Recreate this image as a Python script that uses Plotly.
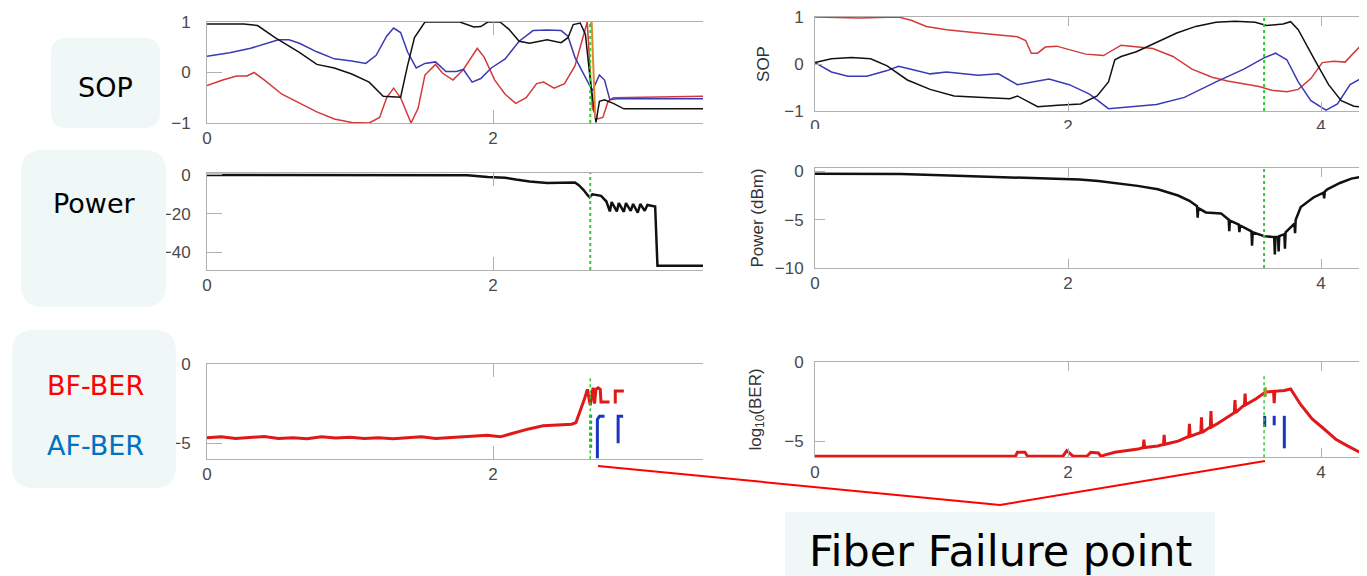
import plotly.graph_objects as go

W, H = 1367, 576
OFF = 8  # page body margin of the browser

# ---------------- data ----------------
fail_left = 2.68
fail_right = 3.55

# Left SOP
lsop_black_x = [0, 0.256, 0.354, 0.476, 0.646, 0.768, 0.89, 1.012, 1.134, 1.232, 1.354, 1.402, 1.451, 1.524, 1.768, 1.866, 1.915, 1.963, 2.049, 2.11, 2.183, 2.256, 2.378, 2.476, 2.524, 2.561, 2.61, 2.646, 2.683, 2.72, 2.744, 2.78, 2.841, 2.915, 3.5]
lsop_black_y = [0.96, 0.96, 0.93, 0.69, 0.40, 0.16, 0.09, -0.03, -0.19, -0.47, -0.49, 0.13, 0.69, 1.0, 1.0, 0.9, 0.91, 1.0, 1.0, 0.86, 0.62, 0.58, 0.65, 0.59, 0.69, 0.95, 0.98, 0.76, -0.22, -0.99, -0.57, -0.54, -0.61, -0.72, -0.72]
lsop_blue_x = [0, 0.159, 0.305, 0.402, 0.5, 0.573, 0.646, 0.768, 0.89, 1.012, 1.11, 1.183, 1.256, 1.305, 1.354, 1.402, 1.463, 1.524, 1.598, 1.671, 1.744, 1.793, 1.854, 1.915, 1.988, 2.085, 2.183, 2.28, 2.378, 2.476, 2.524, 2.573, 2.646, 2.695, 2.744, 2.78, 2.817, 2.866, 3.5]
lsop_blue_y = [0.32, 0.39, 0.48, 0.56, 0.65, 0.65, 0.58, 0.41, 0.27, 0.23, 0.18, 0.34, 0.72, 0.88, 0.79, 0.41, 0.09, 0.18, 0.21, 0.02, 0.02, 0.06, -0.19, -0.12, 0.09, 0.27, 0.62, 0.83, 0.84, 0.83, 0.72, 0.30, -0.08, -0.36, -0.05, -0.15, -0.54, -0.52, -0.52]
lsop_red_x = [0, 0.110, 0.207, 0.280, 0.329, 0.402, 0.524, 0.646, 0.768, 0.89, 1.012, 1.134, 1.207, 1.256, 1.305, 1.354, 1.427, 1.476, 1.524, 1.598, 1.646, 1.720, 1.793, 1.890, 1.939, 2.012, 2.085, 2.159, 2.232, 2.305, 2.354, 2.427, 2.500, 2.573, 2.622, 2.659, 2.695, 2.732, 2.768, 2.805, 2.841, 3.5]
lsop_red_y = [-0.26, -0.15, -0.07, -0.07, 0.0, -0.15, -0.43, -0.61, -0.78, -0.92, -0.99, -1.0, -0.89, -0.50, -0.31, -0.50, -1.0, -0.71, -0.05, 0.16, -0.01, -0.15, 0.06, 0.48, 0.30, -0.15, -0.43, -0.61, -0.50, -0.22, -0.19, -0.31, -0.22, 0.13, 0.62, 1.0, -0.71, -0.92, -0.89, -0.57, -0.50, -0.47]
lsop_orange_x = [2.675, 2.69, 2.715]
lsop_orange_y = [0.9, 1.0, -0.9]

# Left power (dBm)
lpow_x = [0, 1.82, 1.963, 2.085, 2.16, 2.256, 2.378, 2.573, 2.60, 2.634, 2.66, 2.676, 2.695, 2.756, 2.793,
          2.817, 2.83, 2.866, 2.88, 2.915, 2.93, 2.963, 2.98, 3.012, 3.03, 3.061, 3.08, 3.134, 3.15, 3.5]
lpow_y = [0, -0.2, -1.0, -1.4, -2.4, -3.4, -4.1, -3.9, -5.3, -7.8, -10.3, -11.5, -10.0, -10.8, -13.7,
          -18.8, -14.0, -18.8, -14.5, -19.0, -14.5, -18.5, -15.0, -19.5, -15.0, -18.5, -15.5, -16.3, -46.8, -46.8]

# Left BER (log10)
lbf_x = [0, 0.1, 0.2, 0.3, 0.4, 0.5, 0.6, 0.7, 0.8, 0.9, 1.0, 1.1, 1.2, 1.3, 1.4, 1.5, 1.6, 1.7, 1.8, 1.9, 1.96,
         2.05, 2.15, 2.25, 2.35, 2.45, 2.55, 2.58, 2.61, 2.64, 2.66, 2.68, 2.70, 2.71, 2.72, 2.735, 2.75, 2.755, 2.815,
         None, 2.855, 2.855, 2.915]
lbf_y = [-4.65, -4.6, -4.7, -4.62, -4.58, -4.7, -4.65, -4.72, -4.6, -4.68, -4.62, -4.7, -4.65, -4.72, -4.68, -4.6,
         -4.7, -4.65, -4.6, -4.55, -4.5, -4.6, -4.35, -4.1, -3.9, -3.85, -3.8, -3.7, -3.0, -2.2, -1.6, -2.6, -1.5,
         -2.5, -1.6, -1.5, -1.6, -2.4, -2.4, None, -2.5, -1.7, -1.7]
laf_dot_x = [2.683, 2.683]
laf_dot_y = [-3.2, -5.4]
laf_x = [2.73, 2.73, 2.745, 2.78, None, 2.875, 2.875, 2.91]
laf_y = [-5.95, -3.5, -3.3, -3.3, None, -5.0, -3.3, -3.3]

# Right SOP
rsop_red_x = [0, 0.35, 0.66, 0.76, 0.88, 1.04, 1.29, 1.45, 1.60, 1.665, 1.71, 1.76, 1.82, 1.91, 2.01, 2.14, 2.23, 2.28, 2.42, 2.58, 2.67, 2.83, 2.98, 3.14, 3.26, 3.51, 3.61, 3.73, 3.82, 3.92, 4.01, 4.10, 4.19, 4.33, 4.45]
rsop_red_y = [1.0, 0.98, 1.0, 0.93, 0.80, 0.73, 0.66, 0.62, 0.58, 0.50, 0.23, 0.23, 0.36, 0.38, 0.30, 0.21, 0.19, 0.18, 0.40, 0.36, 0.33, 0.16, -0.11, -0.28, -0.36, -0.48, -0.56, -0.59, -0.54, -0.31, 0.03, 0.06, 0.04, 0.44, 0.6]
rsop_black_x = [0, 0.13, 0.29, 0.44, 0.57, 0.73, 0.91, 1.10, 1.29, 1.54, 1.60, 1.665, 1.76, 1.92, 2.10, 2.23, 2.32, 2.37, 2.42, 2.54, 2.70, 2.86, 3.01, 3.17, 3.32, 3.48, 3.57, 3.70, 3.76, 3.82, 3.95, 4.06, 4.16, 4.26, 4.45]
rsop_black_y = [0.03, 0.11, 0.14, 0.11, -0.04, -0.34, -0.54, -0.68, -0.71, -0.74, -0.68, -0.78, -0.91, -0.88, -0.85, -0.68, -0.38, 0.09, 0.16, 0.26, 0.46, 0.66, 0.80, 0.89, 0.91, 0.89, 0.82, 0.85, 0.90, 0.73, 0.09, -0.44, -0.78, -0.90, -0.95]
rsop_blue_x = [0, 0.13, 0.26, 0.41, 0.57, 0.66, 0.76, 0.91, 1.04, 1.16, 1.29, 1.45, 1.60, 1.73, 1.85, 2.01, 2.17, 2.32, 2.48, 2.70, 2.92, 3.17, 3.39, 3.55, 3.64, 3.73, 3.82, 3.92, 4.04, 4.13, 4.23, 4.33, 4.45]
rsop_blue_y = [0.03, -0.17, -0.26, -0.26, -0.14, -0.05, -0.11, -0.21, -0.17, -0.21, -0.24, -0.21, -0.44, -0.38, -0.32, -0.44, -0.64, -0.95, -0.91, -0.86, -0.71, -0.38, -0.11, 0.13, 0.23, 0.09, -0.38, -0.78, -0.98, -0.85, -0.44, -0.28, -0.1]

# Right power (dBm)
rpow_x = [0, 0.68, 1.0, 1.46, 1.93, 2.09, 2.24, 2.40, 2.55, 2.71, 2.87, 2.96, 3.02, 3.025, 3.03, 3.09, 3.21,
          3.27, 3.275, 3.28, 3.35, 3.355, 3.36, 3.45, 3.455, 3.46, 3.55, 3.63, 3.635, 3.64, 3.66, 3.665, 3.67,
          3.71, 3.715, 3.72, 3.79, 3.795, 3.80, 3.84, 3.94, 4.02, 4.025, 4.03, 4.05, 4.15, 4.24, 4.33, 4.45]
rpow_y = [-0.25, -0.28, -0.4, -0.6, -0.75, -0.85, -1.0, -1.25, -1.5, -1.85, -2.5, -3.05, -3.6, -4.8, -3.8, -4.25, -4.35,
          -5.0, -6.2, -5.1, -5.5, -6.3, -5.6, -6.2, -7.7, -6.3, -6.7, -6.8, -8.6, -6.8, -6.8, -8.3, -6.7,
          -6.5, -8.0, -6.3, -5.4, -6.4, -5.0, -3.7, -2.7, -2.2, -2.8, -2.1, -1.85, -1.2, -0.75, -0.55, -0.4]

# Right BER (log10)
rbf_x = [0, 1.585, 1.60, 1.66, 1.68, 1.96, 1.99, 2.04, 2.15, 2.18, 2.24, 2.26, 2.30, 2.37, 2.555, 2.595, 2.60, 2.605,
         2.71, 2.755, 2.76, 2.765, 2.87, 2.955, 2.96, 2.965, 3.05, 3.055, 3.06, 3.125, 3.13, 3.135, 3.18, 3.315, 3.32,
         3.325, 3.395, 3.40, 3.405, 3.49, 3.56, 3.625, 3.63, 3.635, 3.71, 3.76, 3.84, 3.93, 4.02, 4.12, 4.21, 4.33, 4.45]
rbf_y = [-5.95, -5.95, -5.7, -5.7, -5.95, -5.95, -5.6, -5.95, -5.95, -5.7, -5.75, -5.95, -5.85, -5.7, -5.5, -5.4, -4.9, -5.4,
         -5.3, -5.2, -4.6, -5.2, -5.0, -4.7, -3.9, -4.7, -4.45, -3.5, -4.45, -4.1, -3.1, -4.1, -3.9, -3.2, -2.4,
         -3.2, -2.7, -2.0, -2.7, -2.3, -1.9, -1.85, -2.6, -1.85, -1.8, -1.7, -2.7, -3.6, -4.2, -4.9, -5.3, -5.8, -5.95]
raf_x = [3.555, 3.555, None, 3.63, 3.63, None, 3.71, 3.71]
raf_y = [-3.4, -4.1, None, -3.4, -4.0, None, -3.4, -5.45]
rorange_x = [3.56, 3.56]
rorange_y = [-1.6, -2.2]

xticks = [0, 2, 4]

# ---------------- helpers ----------------
def PX(px):
    return (px - OFF) / W


def PY(py):
    return 1 - (py - OFF) / H


RED_S = "#d23a3a"
BLUE_S = "#3a3ab4"
BLACK = "#111111"
RED_B = "#e01818"
BLUE_B = "#1a36c0"
GREEN = "#35c835"

fig = go.Figure()


def add(x, y, ax, color, width, dash=None):
    fig.add_trace(go.Scatter(x=x, y=y, mode="lines", xaxis="x" + ax, yaxis="y" + ax,
                             line=dict(color=color, width=width, dash=dash),
                             showlegend=False, hoverinfo="skip", connectgaps=False))


add(lsop_red_x, lsop_red_y, "1", RED_S, 1.5)
add(lsop_blue_x, lsop_blue_y, "1", BLUE_S, 1.5)
add(lsop_black_x, lsop_black_y, "1", BLACK, 1.5)
add(lsop_orange_x, lsop_orange_y, "1", "#e08a2a", 2)
add([fail_left, fail_left], [-1, 1], "1", GREEN, 2, "dot")

add(lpow_x, lpow_y, "2", BLACK, 2.5)
add([fail_left, fail_left], [-49, 1], "2", GREEN, 2, "dot")

add(lbf_x, lbf_y, "3", RED_B, 3)
add(laf_dot_x, laf_dot_y, "3", "#2a70c8", 3, "dot")
add(laf_x, laf_y, "3", BLUE_B, 3)
add([fail_left, fail_left], [-0.9, -6], "3", GREEN, 1.5, "dot")

add(rsop_red_x, rsop_red_y, "4", RED_S, 1.5)
add(rsop_blue_x, rsop_blue_y, "4", BLUE_S, 1.5)
add(rsop_black_x, rsop_black_y, "4", BLACK, 1.5)
add([fail_right, fail_right], [-1, 1], "4", GREEN, 2, "dot")

add(rpow_x, rpow_y, "5", BLACK, 2.5)
add([fail_right, fail_right], [-10, 0.35], "5", GREEN, 2, "dot")

add(rbf_x, rbf_y, "6", RED_B, 3)
add(raf_x, raf_y, "6", BLUE_B, 3)
add(rorange_x, rorange_y, "6", "#d08030", 3)
add([fail_right, fail_right], [-0.9, -6], "6", GREEN, 1.5, "dot")

TICKFONT = dict(family="Liberation Sans, Arial, sans-serif", size=17, color="#4a4a4a")
TITLEFONT = dict(family="Liberation Sans, Arial, sans-serif", size=17, color="#333333")
LINEC = "#b0b0b0"


def xax(px0, px1, rng, anchor, tlen):
    return dict(domain=[max(0, PX(px0)), min(1, PX(px1))], range=rng, anchor=anchor, tickvals=xticks,
                showgrid=False, zeroline=False, showline=True, linecolor=LINEC, linewidth=1,
                mirror="ticks", ticks="inside", ticklen=tlen, tickcolor=LINEC, tickfont=TICKFONT,
                ticklabelstandoff=0, automargin=False, fixedrange=True)


def yax(py_top, py_bot, rng, anchor, tickvals, tlen, lstand, title=None, standoff=6):
    d = dict(domain=[PY(py_bot), min(1, PY(py_top))], range=rng, anchor=anchor, tickvals=tickvals,
             showgrid=False, zeroline=False, showline=True, linecolor=LINEC, linewidth=1,
             mirror=False, ticks="inside", ticklen=tlen, tickcolor=LINEC, tickfont=TICKFONT,
             ticklabelstandoff=lstand, ticklabeloverflow="allow", automargin=False, fixedrange=True)
    if title:
        d["title"] = dict(text=title, font=TITLEFONT, standoff=standoff)
    return d


LX0, LX1, LSC = 207, 703, 143.0
RX0, RX1, RSC = 815, 1375, 126.5
lrange = [0, (LX1 - LX0) / LSC]
rrange = [0, (RX1 - RX0) / RSC]

layout = dict(
    width=W, height=H, margin=dict(l=0, r=0, t=0, b=0, pad=0), autosize=False,
    paper_bgcolor="white", plot_bgcolor="white",
    xaxis=xax(LX0, LX1, lrange, "y", 13),
    yaxis=yax(22, 123, [-1, 1], "x", [-1, 0, 1], 15, 12),
    xaxis2=xax(LX0, LX1, lrange, "y2", 13),
    yaxis2=yax(173, 270, [-49, 1], "x2", [-40, -20, 0], 15, 12),
    xaxis3=xax(LX0, LX1, lrange, "y3", 13),
    yaxis3=yax(364, 459, [-6, 0], "x3", [-5, 0], 15, 12),
    xaxis4=xax(RX0, RX1, rrange, "y4", 9),
    yaxis4=yax(17, 111, [-1, 1], "x4", [-1, 0, 1], 7, 7, "SOP", 10),
    xaxis5=xax(RX0, RX1, rrange, "y5", 9),
    yaxis5=yax(168, 268, [-10, 0.35], "x5", [-10, -5, 0], 10, 7, "Power (dBm)", 6),
    xaxis6=xax(RX0, RX1, rrange, "y6", 9),
    yaxis6=yax(362, 457, [-6, 0], "x6", [-5, 0], 10, 7, "log<sub>10</sub>(BER)", 18),
)
fig.update_layout(**layout)


def rrect(x0, y0, x1, y1, r, fill):
    p = (f"M {PX(x0 + r)},{PY(y0)} L {PX(x1 - r)},{PY(y0)} Q {PX(x1)},{PY(y0)} {PX(x1)},{PY(y0 + r)} "
         f"L {PX(x1)},{PY(y1 - r)} Q {PX(x1)},{PY(y1)} {PX(x1 - r)},{PY(y1)} "
         f"L {PX(x0 + r)},{PY(y1)} Q {PX(x0)},{PY(y1)} {PX(x0)},{PY(y1 - r)} "
         f"L {PX(x0)},{PY(y0 + r)} Q {PX(x0)},{PY(y0)} {PX(x0 + r)},{PY(y0)} Z")
    return dict(type="path", path=p, xref="paper", yref="paper", fillcolor=fill,
                line=dict(width=0), layer="above")


BOXC = "#eff7f7"
shapes = [
    # strip that hides the lower part of the top-right x tick labels (as cropped in the source)
    dict(type="rect", xref="paper", yref="paper", x0=PX(785), x1=PX(1380), y0=PY(150), y1=PY(129),
         fillcolor="white", line=dict(width=0), layer="above"),
    rrect(51, 38, 160, 128, 16, BOXC),
    rrect(21, 150, 166, 307, 22, BOXC),
    rrect(12, 330, 176, 488, 22, BOXC),
    dict(type="rect", xref="paper", yref="paper", x0=PX(785), x1=PX(1215), y0=PY(590), y1=PY(512),
         fillcolor=BOXC, line=dict(width=0), layer="above"),
    dict(type="line", xref="paper", yref="paper", x0=PX(598), y0=PY(466), x1=PX(1000), y1=PY(505),
         line=dict(color="#ff0000", width=2), layer="above"),
    dict(type="line", xref="paper", yref="paper", x0=PX(1000), y0=PY(505), x1=PX(1265), y1=PY(461),
         line=dict(color="#ff0000", width=2), layer="above"),
]
fig.update_layout(shapes=shapes)

LBLF = "DejaVu Sans, Verdana, sans-serif"


def ann(text, x, y, size, color):
    return dict(text=text, x=PX(x), y=PY(y), xref="paper", yref="paper", showarrow=False,
                font=dict(family=LBLF, size=size, color=color), xanchor="center", yanchor="middle")


fig.update_layout(annotations=[
    ann("SOP", 105, 88, 27, "#000000"),
    ann("Power", 94, 203, 27, "#000000"),
    ann("BF-BER", 95, 385, 27, "#ff0000"),
    ann("AF-BER", 95, 445, 27, "#0070c0"),
    ann("Fiber Failure point", 1000, 551, 43, "#000000"),
])

fig.write_html("out.html")
